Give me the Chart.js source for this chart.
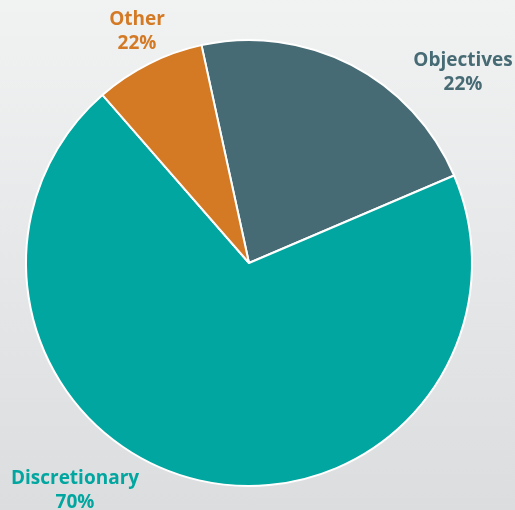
<!DOCTYPE html>
<html>
<head>
<meta charset="utf-8">
<script src="https://cdn.jsdelivr.net/npm/chart.js"></script>
<style>
  html, body { margin: 0; padding: 0; }
  body { width: 515px; height: 510px; background: linear-gradient(to bottom, #f1f2f2, #dcdddf); overflow: hidden; }
  #wrap { position: relative; width: 515px; height: 510px; }
</style>
</head>
<body>
<div id="wrap"><canvas id="budgetPie"></canvas></div>
<script>
var categories = ['Objectives', 'Discretionary', 'Other'];
var shares = [22, 70, 8];
var shownLabels = ['22%', '70%', '22%'];
var sliceColors = ['#476b74', '#00a69f', '#d47a25'];

// label anchors (centre of the two text lines)
var labelSpots = [[463, 73], [75, 491], [137, 32]];

var sideLabels = {
  id: 'sideLabels',
  afterDraw: function(chart) {
    var ctx = chart.ctx;
    ctx.save();
    ctx.font = 'bold 19px "Open Sans"';
    ctx.textAlign = 'center';
    ctx.textBaseline = 'middle';
    for (var i = 0; i < categories.length; i++) {
      ctx.fillStyle = sliceColors[i];
      ctx.fillText(categories[i], labelSpots[i][0], labelSpots[i][1] - 12);
      ctx.fillText(shownLabels[i], labelSpots[i][0], labelSpots[i][1] + 12);
    }
    ctx.restore();
  }
};

var pie = document.getElementById('budgetPie').getContext('2d');
var myChart = new Chart(pie, {
  type: 'pie',
  data: {
    labels: categories,
    datasets: [{
      data: shares,
      backgroundColor: sliceColors,
      borderColor: '#ffffff',
      borderWidth: 2
    }]
  },
  options: {
    responsive: true,
    maintainAspectRatio: false,
    animation: false,
    rotation: -12.3,
    layout: { padding: { left: 25, right: 42, top: 39, bottom: 23 } },
    plugins: {
      legend: { display: false },
      tooltip: { enabled: false }
    }
  },
  plugins: [sideLabels]
});
</script>
</body>
</html>
